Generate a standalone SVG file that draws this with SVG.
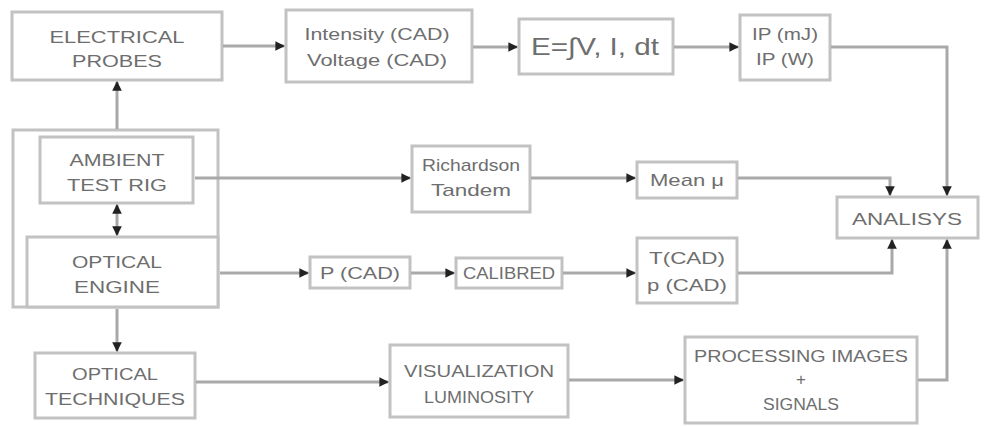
<svg xmlns="http://www.w3.org/2000/svg" width="984" height="426" viewBox="0 0 984 426">
<style>
.box{fill:#fff;stroke:#c2c2c2;stroke-width:3}
.t{font-family:"Liberation Sans",Arial,sans-serif;font-size:17px;fill:#6e6e6e;text-anchor:middle}
.c{fill:none;stroke:#a9a9a9;stroke-width:3}
</style>
<defs>
<marker id="ah" viewBox="0 0 10 10" refX="9" refY="5" markerWidth="3.2" markerHeight="3.2" orient="auto" markerUnits="strokeWidth">
<path d="M0,0 L10,5 L0,10 z" fill="#222"/>
</marker>
</defs>
<rect width="984" height="426" fill="#fff"/>
<g id="electrical-probes">
<rect class="box" x="12" y="12" width="210" height="68"/>
<text class="t" x="117" y="43" textLength="135" lengthAdjust="spacingAndGlyphs">ELECTRICAL</text>
<text class="t" x="117" y="67" textLength="90" lengthAdjust="spacingAndGlyphs">PROBES</text>
</g>
<g id="intensity-voltage">
<rect class="box" x="286" y="10" width="186" height="72"/>
<text class="t" x="377" y="40" textLength="145" lengthAdjust="spacingAndGlyphs">Intensity (CAD)</text>
<text class="t" x="377" y="66" textLength="140" lengthAdjust="spacingAndGlyphs">Voltage (CAD)</text>
</g>
<g id="energy">
<rect class="box" x="519" y="19" width="154" height="55"/>
<text class="t" x="595" y="55" style="font-size:24px" textLength="128" lengthAdjust="spacingAndGlyphs">E=∫V, I, dt</text>
</g>
<g id="ip">
<rect class="box" x="740" y="15" width="90" height="65"/>
<text class="t" x="785" y="40" textLength="66" lengthAdjust="spacingAndGlyphs">IP (mJ)</text>
<text class="t" x="785" y="65" textLength="58" lengthAdjust="spacingAndGlyphs">IP (W)</text>
</g>
<g id="rig-engine-frame">
<rect class="box" x="13" y="130" width="205" height="177"/>
</g>
<g id="ambient-test-rig">
<rect class="box" x="40" y="137" width="153" height="66"/>
<text class="t" x="117" y="166" textLength="95" lengthAdjust="spacingAndGlyphs">AMBIENT</text>
<text class="t" x="117" y="191" textLength="100" lengthAdjust="spacingAndGlyphs">TEST RIG</text>
</g>
<g id="optical-engine">
<rect class="box" x="27" y="237" width="191" height="70"/>
<text class="t" x="117" y="268" textLength="90" lengthAdjust="spacingAndGlyphs">OPTICAL</text>
<text class="t" x="117" y="293" textLength="86" lengthAdjust="spacingAndGlyphs">ENGINE</text>
</g>
<g id="richardson">
<rect class="box" x="412" y="146" width="118" height="66"/>
<text class="t" x="471" y="171" textLength="98" lengthAdjust="spacingAndGlyphs">Richardson</text>
<text class="t" x="471" y="196" textLength="80" lengthAdjust="spacingAndGlyphs">Tandem</text>
</g>
<g id="mean-mu">
<rect class="box" x="637" y="162" width="100" height="36"/>
<text class="t" x="687" y="186" textLength="74" lengthAdjust="spacingAndGlyphs">Mean μ</text>
</g>
<g id="p-cad">
<rect class="box" x="310" y="257" width="100" height="31"/>
<text class="t" x="360" y="279" textLength="80" lengthAdjust="spacingAndGlyphs">P (CAD)</text>
</g>
<g id="calibred">
<rect class="box" x="456" y="258" width="106" height="30"/>
<text class="t" x="509" y="279" textLength="92" lengthAdjust="spacingAndGlyphs">CALIBRED</text>
</g>
<g id="t-p-cad">
<rect class="box" x="637" y="238" width="100" height="65"/>
<text class="t" x="687" y="264" textLength="76" lengthAdjust="spacingAndGlyphs">T(CAD)</text>
<text class="t" x="687" y="291" textLength="80" lengthAdjust="spacingAndGlyphs">p (CAD)</text>
</g>
<g id="analisys">
<rect class="box" x="837" y="197" width="141" height="41"/>
<text class="t" x="907" y="225" textLength="110" lengthAdjust="spacingAndGlyphs">ANALISYS</text>
</g>
<g id="optical-techniques">
<rect class="box" x="35" y="353" width="160" height="65"/>
<text class="t" x="115" y="380" textLength="86" lengthAdjust="spacingAndGlyphs">OPTICAL</text>
<text class="t" x="115" y="405" textLength="140" lengthAdjust="spacingAndGlyphs">TECHNIQUES</text>
</g>
<g id="visualization">
<rect class="box" x="390" y="345" width="178" height="72"/>
<text class="t" x="479" y="377" textLength="150" lengthAdjust="spacingAndGlyphs">VISUALIZATION</text>
<text class="t" x="479" y="403" textLength="110" lengthAdjust="spacingAndGlyphs">LUMINOSITY</text>
</g>
<g id="processing">
<rect class="box" x="685" y="337" width="232" height="86"/>
<text class="t" x="801" y="362" textLength="214" lengthAdjust="spacingAndGlyphs">PROCESSING IMAGES</text>
<text class="t" x="801" y="385">+</text>
<text class="t" x="801" y="410" textLength="76" lengthAdjust="spacingAndGlyphs">SIGNALS</text>
</g>
<g id="connectors">
<path class="c" d="M223,46 H284" marker-end="url(#ah)"/>
<path class="c" d="M473,47 H517" marker-end="url(#ah)"/>
<path class="c" d="M674,47 H738" marker-end="url(#ah)"/>
<path class="c" d="M831,47 H947 V195" marker-end="url(#ah)"/>
<path class="c" d="M117,129 V82" marker-end="url(#ah)"/>
<path class="c" d="M117,220 V205" marker-end="url(#ah)"/>
<path class="c" d="M117,220 V235" marker-end="url(#ah)"/>
<path class="c" d="M117,309 V351" marker-end="url(#ah)"/>
<path class="c" d="M195,178 H410" marker-end="url(#ah)"/>
<path class="c" d="M531,178 H635" marker-end="url(#ah)"/>
<path class="c" d="M738,178 H890 V195" marker-end="url(#ah)"/>
<path class="c" d="M220,273 H308" marker-end="url(#ah)"/>
<path class="c" d="M411,273 H454" marker-end="url(#ah)"/>
<path class="c" d="M563,273 H635" marker-end="url(#ah)"/>
<path class="c" d="M738,273 H892 V240" marker-end="url(#ah)"/>
<path class="c" d="M196,382 H388" marker-end="url(#ah)"/>
<path class="c" d="M569,380 H683" marker-end="url(#ah)"/>
<path class="c" d="M918,380 H947 V240" marker-end="url(#ah)"/>
</g>
</svg>
